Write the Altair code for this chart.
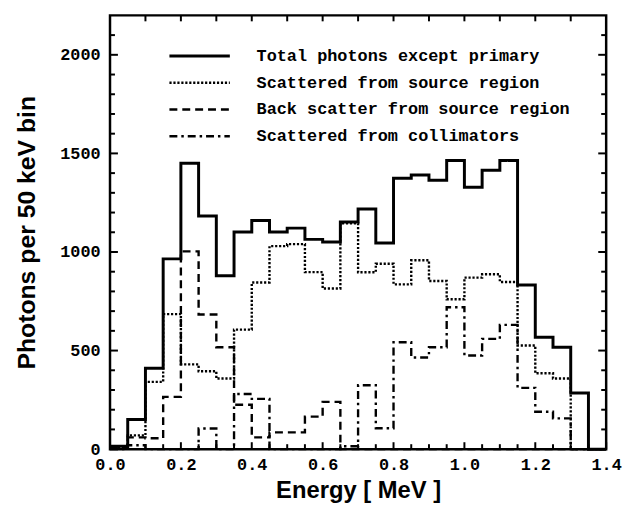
import altair as alt
import pandas as pd

# ---- data (50 keV bins, left edges in MeV) ----
energy = [0.00, 0.05, 0.10, 0.15, 0.20, 0.25, 0.30, 0.35, 0.40, 0.45,
          0.50, 0.55, 0.60, 0.65, 0.70, 0.75, 0.80, 0.85, 0.90, 0.95,
          1.00, 1.05, 1.10, 1.15, 1.20, 1.25, 1.30, 1.35]
end_edge = 1.40

total = [15, 150, 410, 965, 1450, 1182, 880, 1101, 1160, 1101,
         1121, 1064, 1051, 1152, 1218, 1046, 1374, 1390, 1364, 1464,
         1328, 1414, 1464, 833, 567, 517, 285, 0]
source = [10, 70, 341, 685, 430, 395, 358, 606, 845, 1030,
          1040, 898, 815, 1145, 897, 940, 836, 958, 853, 760,
          870, 887, 848, 526, 385, 358, 0, 0]
back = [10, 60, 55, 265, 1003, 683, 517, 225, 60, 85,
        85, 165, 240, 0, 0, 0, 0, 0, 0, 0,
        0, 0, 0, 0, 0, 0, 0, 0]
collim = [0, 20, 0, 0, 0, 105, 0, 280, 255, 0,
          0, 0, 0, 15, 324, 106, 542, 465, 517, 720,
          475, 559, 630, 311, 190, 156, 0, 0]

series_names = ["Total photons except primary",
                "Scattered from source region",
                "Back scatter from source region",
                "Scattered from collimators"]
series_values = [total, source, back, collim]
series_dash = [[1, 0], [2.2, 1.8], [8, 5], [8, 4, 2.5, 4]]
series_width = [3.0, 2.4, 2.4, 2.4]

x_labels = [0.0, 0.2, 0.4, 0.6, 0.8, 1.0, 1.2, 1.4]
y_labels = [0, 500, 1000, 1500, 2000]
y_minor = [100, 200, 300, 400, 600, 700, 800, 900, 1100, 1200, 1300, 1400,
           1600, 1700, 1800, 1900, 2100]
x_minor = [0.05, 0.1, 0.15, 0.25, 0.3, 0.35, 0.45, 0.5, 0.55, 0.65, 0.7, 0.75,
           0.85, 0.9, 0.95, 1.05, 1.1, 1.15, 1.25, 1.3, 1.35]
x_top = [0.1, 0.2, 0.3, 0.4, 0.5, 0.6, 0.7, 0.8, 0.9, 1.0, 1.1, 1.2, 1.3]

W, H = 501, 438
MONO = "Liberation Mono"
SANS = "Liberation Sans"

xscale = alt.Scale(domain=[0, 1.4], nice=False, zero=False)
yscale = alt.Scale(domain=[0, 2200], nice=False, zero=False)

xaxis = alt.Axis(values=x_labels, format=".1f", ticks=False, domain=False, grid=False,
                 labelFont=MONO, labelFontWeight="bold", labelFontSize=17,
                 labelColor="black", labelPadding=8, labelFlush=False,
                 title="Energy [ MeV ]", titleFont=SANS, titleFontWeight="bold",
                 titleFontSize=24, titleColor="black", titlePadding=6)
yaxis = alt.Axis(values=y_labels, format="d", ticks=False, domain=False, grid=False,
                 labelFont=MONO, labelFontWeight="bold", labelFontSize=17,
                 labelColor="black", labelPadding=10, labelFlush=False,
                 title="Photons per 50 keV bin", titleFont=SANS, titleFontWeight="bold",
                 titleFontSize=25, titleColor="black", titlePadding=20)

X = lambda f: alt.X(f, scale=xscale, axis=xaxis)
Y = lambda f: alt.Y(f, scale=yscale, axis=yaxis)

layers = []
for name, vals, dash, sw in reversed(list(zip(series_names, series_values,
                                               series_dash, series_width))):
    df = pd.DataFrame({"energy": energy + [end_edge], "count": vals + [vals[-1]]})
    layers.append(
        alt.Chart(df).mark_line(interpolate="step-after", color="black",
                                strokeWidth=sw, strokeDash=dash)
        .encode(x=X("energy:Q"), y=Y("count:Q"))
    )

# inward ticks
def yticks(vals, x0, x1):
    return alt.Chart(pd.DataFrame({"count": vals})).mark_rule(color="black", strokeWidth=2).encode(
        y=Y("count:Q"), x=alt.value(x0), x2=alt.value(x1))

def xticks(vals, y0, y1):
    return alt.Chart(pd.DataFrame({"energy": vals})).mark_rule(color="black", strokeWidth=2).encode(
        x=X("energy:Q"), y=alt.value(y0), y2=alt.value(y1))

layers += [
    yticks(y_labels, 0, 8), yticks(y_minor, 0, 5),
    yticks(y_labels, W, W - 8), yticks(y_minor, W, W - 5),
    xticks(x_labels, H, H - 7), xticks(x_minor, H, H - 5),
    xticks(x_top, 0, 6),
]

# legend drawn inside the plot
leg_y = [41, 68, 95, 122]
for name, dash, sw, ly in zip(series_names, series_dash, series_width, leg_y):
    ldf = pd.DataFrame({"label": [name]})
    layers.append(alt.Chart(ldf).mark_rule(color="black", strokeWidth=sw, strokeDash=dash).encode(
        x=alt.value(60), x2=alt.value(121), y=alt.value(ly)))
    layers.append(alt.Chart(ldf).mark_text(align="left", baseline="middle", font=MONO,
                                           fontWeight="bold", fontSize=17, color="black").encode(
        x=alt.value(148), y=alt.value(ly), text="label:N"))

chart = alt.layer(*layers).properties(
    width=W, height=H,
    autosize=alt.AutoSizeParams(type="none"),
    padding={"left": 103, "top": 5, "right": 17, "bottom": 60},
    background="white",
).configure_view(stroke="black", strokeWidth=2.5)

chart.save("out.html", embed_options={"renderer": "svg", "actions": False})
